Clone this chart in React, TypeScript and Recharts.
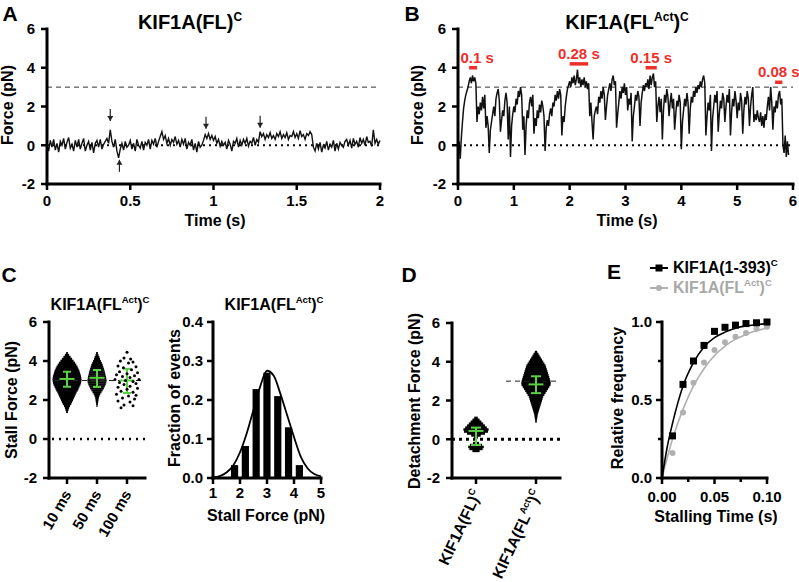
import React from 'react'
import { ComposedChart, Line, Bar, Scatter, XAxis, YAxis, ReferenceLine, ErrorBar } from 'recharts'

const FONT = '"Liberation Sans", Arial, Helvetica, sans-serif'
const RED = '#ee2f2a'
const GREEN = '#5bcf45'
const GRAY = '#b0b0b0'

// ---- A: KIF1A(FL)^C trace, one value every 10 ms
const traceAStep = 0.01
const traceAForce = [
  0.0, -0.3, 0.25, -0.1, 0.3, -0.25, 0.1, -0.35, 0.2, 0.0,
  0.35, -0.2, 0.15, 0.4, -0.15, 0.05, -0.3, 0.25, -0.1, 0.3,
  -0.2, 0.1, 0.35, -0.3, 0.0, 0.2, -0.25, 0.15, -0.4, 0.1,
  0.25, -0.1, 0.3, -0.2, 0.05, 0.2, 0.35, 0.1, 0.8, 0.2,
  -0.1, 0.3, -0.3, -0.65, -0.2, 0.1, -0.25, 0.2, -0.1, 0.0,
  0.25, -0.2, 0.1, -0.3, 0.3, 0.0, -0.15, 0.2, -0.25, 0.15,
  0.0, 0.3, -0.2, 0.25, 0.05, 0.35, -0.1, 0.2, 0.45, 0.7,
  0.3, 0.5, 0.1, 0.35, 0.0, 0.3, 0.15, 0.45, 0.05, 0.25,
  -0.1, 0.3, 0.05, 0.35, -0.2, 0.15, 0.0, 0.3, -0.25, 0.1,
  -0.35, 0.2, -0.1, 0.0, 0.25, 0.55, 0.35, 0.6, 0.3, 0.5,
  0.25, 0.45, 0.1, 0.3, -0.05, 0.2, 0.0, 0.15, -0.2, 0.25,
  0.05, -0.3, 0.2, 0.1, 0.35, -0.1, 0.25, 0.0, 0.3, 0.1,
  0.35, -0.05, 0.2, 0.1, 0.4, 0.0, 0.3, 0.15, 0.7, 0.45,
  0.6, 0.3, 0.55, 0.4, 0.65, 0.35, 0.5, 0.3, 0.6, 0.45,
  0.7, 0.35, 0.55, 0.4, 0.65, 0.3, 0.5, 0.45, 0.7, 0.4,
  0.6, 0.35, 0.75, 0.45, 0.55, 0.3, 0.6, 0.5, 0.7, 0.55,
  -0.1, -0.3, 0.1, -0.2, 0.15, -0.35, 0.0, -0.15, 0.2, -0.25,
  0.05, -0.1, 0.25, -0.3, 0.1, -0.2, 0.15, 0.0, -0.1, 0.2,
  0.3, 0.0, 0.25, -0.15, 0.35, 0.05, 0.2, -0.1, 0.4, 0.1,
  0.3, 0.0, 0.45, 0.15, 0.2, -0.05, 0.8, 0.1, 0.3, 0.05,
  0.25,
]
// arrow tips (time, force, pointing)
const arrowsA = [
  { t: 0.38, f: 1.25, dir: 'down' },
  { t: 0.435, f: -0.75, dir: 'up' },
  { t: 0.955, f: 0.85, dir: 'down' },
  { t: 1.28, f: 0.9, dir: 'down' },
]

// ---- B: KIF1A(FL^Act)^C trace, one value every 20 ms
const traceBStep = 0.02
const traceBForce = [
  -0.3, 0.2, -0.7, 0.4, 1.2, 1.9, 2.3, 2.6, 2.8, 3.0,
  3.3, 3.5, 3.2, 3.6, 3.3, 3.5, 3.2, 1.2, 2.0, 1.6,
  2.2, 1.8, 2.5, 1.9, 2.6, 0.9, 1.5, 1.0, -0.4, 0.8,
  1.2, 1.6, 2.0, 1.5, 2.4, 2.7, 2.9, 2.3, 0.7, 1.3,
  1.8, 1.5, 2.3, 2.7, 2.2, 0.3, 2.0, -0.6, 1.0, 1.6,
  2.0, 1.7, 2.4, 2.1, 2.8, 2.5, 3.0, 2.6, 0.8, 1.5,
  -0.5, 1.0, 1.8, 1.4, 2.2, 2.5, 2.0, 2.6, 0.6, 1.4,
  1.0, 1.8, 1.4, 2.1, 1.7, 2.3, 2.0, 1.5, -0.3, 0.9,
  1.3, 1.0, 1.6, 1.9, 1.5, 2.2, 2.0, 2.6, 2.3, 2.8,
  2.4, 2.9, 2.6, 0.5, 1.5, 1.2, 2.0, 2.5, 2.9, 3.1,
  3.3, 3.0, 3.5, 3.2, 3.6, 3.1, 3.4, 3.9, 3.2, 3.5,
  3.0, 3.4, 3.1, 3.5, 3.0, 3.3, 2.9, 3.2, 1.5, 2.2,
  1.2, 0.3, 1.5, 1.8, 2.0, 1.6, 2.5, 2.2, 2.8, 2.4,
  3.0, 2.6, 1.3, 2.0, 2.6, 2.9, 3.2, 2.8, 3.4, 3.6,
  3.1, 3.3, 0.9, 1.6, 2.2, 2.8, 2.4, 3.0, 2.7, 3.2,
  2.6, 3.0, 1.8, 2.4, 2.1, 2.7, 0.2, 1.5, 2.0, 2.6,
  2.3, 2.8, 2.5, 1.0, 2.2, 2.7, 3.1, 2.8, 3.2, 3.0,
  3.4, 2.9, 3.6, 3.1, 3.5, 3.7, 3.0, 3.3, 1.2, 2.0,
  2.5, 1.7, 2.4, 0.3, 1.8, 2.6, 2.2, 2.9, 2.5, 1.5,
  2.2, 2.7, 1.9, 2.4, 0.8, 1.6, 2.3, 2.0, 2.6, 2.2,
  -0.2, 1.2, 1.8, 2.4, 2.0, 2.7, 2.2, 0.6, 1.9, 2.5,
  2.2, 2.8, 2.5, 3.0, 2.7, 3.1, 2.9, 3.3, 3.0, 3.4,
  3.6, 3.2, 0.5, 1.5, 2.2, 1.8, 2.6, -0.3, 1.4, 2.0,
  2.6, 2.2, 2.8, 0.7, 1.6, 2.3, 1.9, 2.7, 2.4, 1.2,
  2.0, 2.6, 2.2, 2.9, 0.5, 1.7, 2.4, 2.0, 2.8, 2.3,
  1.4, 2.2, 1.8, 2.7, 2.3, 0.6, 1.8, 2.5, 2.1, 2.8,
  2.4, 1.0, 2.0, 2.6, 3.0, 1.2, 1.6, 1.3, 1.8, 1.4,
  1.2, 1.7, 1.0, 1.5, 0.9, 1.6, 1.3, 2.0, 2.5, 1.8,
  3.0, 2.2, 0.8, 2.0, 1.7, 2.3, 1.9, 2.6, 2.8, 2.1,
  2.4, 0.0, -0.4, 0.5, -0.6, 0.2, -0.5,
]
const stallMarks = [
  { from: 0.2, to: 0.34, force: 4.0, label: '0.1 s' },
  { from: 2.0, to: 2.33, force: 4.2, label: '0.28 s' },
  { from: 3.36, to: 3.56, force: 4.0, label: '0.15 s' },
  { from: 5.68, to: 5.81, force: 3.25, label: '0.08 s' },
]

// ---- C left: stall force per time window
const stallGroups = ['10 ms', '50 ms', '100 ms']
// [force, half width of the swarm]
const stall10Profile: [number, number][] = [
  [4.4, 0.03], [4.3, 0.07], [4.2, 0.12], [4.1, 0.17], [4.0, 0.22], [3.9, 0.27], [3.8, 0.31],
  [3.7, 0.35], [3.6, 0.38], [3.5, 0.41], [3.4, 0.43], [3.3, 0.45], [3.2, 0.47], [3.1, 0.48],
  [3.0, 0.48], [2.9, 0.47], [2.8, 0.45], [2.7, 0.42], [2.6, 0.39], [2.5, 0.36], [2.4, 0.32],
  [2.3, 0.29], [2.2, 0.26], [2.1, 0.23], [2.0, 0.2], [1.9, 0.17], [1.8, 0.14], [1.7, 0.1],
  [1.6, 0.07], [1.5, 0.05], [1.4, 0.03],
]
const stall50Profile: [number, number][] = [
  [4.4, 0.03], [4.3, 0.05], [4.2, 0.08], [4.1, 0.1], [4.0, 0.13], [3.9, 0.16], [3.8, 0.19],
  [3.7, 0.21], [3.6, 0.23], [3.5, 0.25], [3.4, 0.27], [3.3, 0.28], [3.2, 0.3], [3.1, 0.31],
  [3.0, 0.32], [2.9, 0.31], [2.8, 0.29], [2.7, 0.26], [2.6, 0.23], [2.5, 0.19], [2.4, 0.15],
  [2.3, 0.11], [2.2, 0.08], [2.1, 0.06], [2.0, 0.05], [1.9, 0.04], [1.8, 0.03], [1.7, 0.02],
]
// [offset from the group centre, force]
const stall100Dots: [number, number][] = [
  [0.0, 4.45], [-0.1, 4.15], [0.12, 4.1], [-0.22, 4.0], [0.2, 3.95], [0.05, 3.9], [-0.3, 3.75],
  [0.3, 3.7], [-0.12, 3.65], [0.15, 3.55], [-0.25, 3.45], [0.35, 3.4], [0.0, 3.35], [-0.35, 3.3],
  [0.25, 3.25], [-0.15, 3.2], [0.1, 3.15], [-0.4, 3.05], [0.4, 3.05], [-0.05, 3.0], [0.2, 2.95],
  [-0.25, 2.9], [0.3, 2.85], [-0.1, 2.8], [0.1, 2.7], [-0.3, 2.65], [0.35, 2.6], [0.0, 2.55],
  [-0.2, 2.45], [0.2, 2.4], [-0.35, 2.3], [0.3, 2.25], [0.05, 2.2], [-0.15, 2.1], [0.25, 2.05],
  [-0.3, 1.95], [0.1, 1.9], [-0.1, 1.75], [0.2, 1.7], [-0.2, 1.6],
]
const stallMeans = [3.08, 3.14, 3.0]
const stallLow = [2.68, 2.67, 2.36]
const stallHigh = [3.45, 3.54, 3.6]

// ---- C right: histogram of stall force
const binCenters = [1.8, 2.2, 2.6, 3.0, 3.4, 3.8, 4.2]
const binFractions = [0.033, 0.082, 0.228, 0.27, 0.21, 0.13, 0.033]
const gaussForce = [1.0, 1.25, 1.5, 1.75, 2.0, 2.25, 2.5, 2.75, 3.0, 3.25, 3.5, 3.75, 4.0, 4.25, 4.5, 4.75, 5.0]
const gaussFraction = [0.001, 0.005, 0.014, 0.032, 0.066, 0.115, 0.175, 0.235, 0.275, 0.262, 0.215, 0.16, 0.105, 0.055, 0.025, 0.01, 0.004]

// ---- D: detachment force
const detachGroups = ['KIF1A(FL)^{C}', 'KIF1A(FL^{Act})^{C}']
const detachFLProfile: [number, number][] = [
  [1.1, 0.03], [1.0, 0.06], [0.9, 0.09], [0.8, 0.12], [0.7, 0.15], [0.6, 0.18], [0.5, 0.21],
  [0.4, 0.2], [0.3, 0.15], [0.2, 0.08], [0.1, 0.03], [-0.2, 0.05], [-0.3, 0.1], [-0.4, 0.13],
  [-0.5, 0.11], [-0.6, 0.06],
]
const detachActProfile: [number, number][] = [
  [4.5, 0.02], [4.4, 0.04], [4.3, 0.06], [4.2, 0.08], [4.1, 0.1], [4.0, 0.12], [3.9, 0.14],
  [3.8, 0.16], [3.7, 0.17], [3.6, 0.18], [3.5, 0.19], [3.4, 0.2], [3.3, 0.21], [3.2, 0.22],
  [3.1, 0.23], [3.0, 0.24], [2.9, 0.245], [2.8, 0.24], [2.7, 0.22], [2.6, 0.2], [2.5, 0.18],
  [2.4, 0.16], [2.3, 0.14], [2.2, 0.12], [2.1, 0.11], [2.0, 0.1], [1.9, 0.09], [1.8, 0.08],
  [1.7, 0.07], [1.6, 0.06], [1.5, 0.05], [1.4, 0.04], [1.3, 0.03], [1.2, 0.025], [1.1, 0.02],
  [1.0, 0.015], [0.9, 0.01],
]
const detachMeans = [0.43, 2.83]
const detachLow = [-0.3, 2.38]
const detachHigh = [0.6, 3.25]

// ---- E: cumulative stalling time
const stallTimes = [0.01, 0.02, 0.03, 0.04, 0.05, 0.06, 0.07, 0.08, 0.09, 0.1]
const freqTrunc = [0.27, 0.6, 0.75, 0.85, 0.94, 0.966, 0.98, 0.99, 0.995, 1.0]
const freqFull = [0.16, 0.42, 0.61, 0.74, 0.82, 0.87, 0.905, 0.93, 0.955, 0.97]
const fitTimes = [0, 0.005, 0.01, 0.015, 0.02, 0.03, 0.04, 0.05, 0.06, 0.07, 0.08, 0.09, 0.1]
const fitTrunc = [0, 0.2, 0.35, 0.48, 0.59, 0.74, 0.84, 0.9, 0.935, 0.96, 0.975, 0.983, 0.99]
const fitFull = [0, 0.13, 0.25, 0.35, 0.44, 0.59, 0.7, 0.785, 0.845, 0.89, 0.92, 0.945, 0.96]

// ---------- shared styling
const tickText = { fill: '#000', fontSize: 15, fontWeight: 700, fontFamily: FONT }
const axisLine = { stroke: '#000', strokeWidth: 3, strokeLinecap: 'square' as const }
const tickLine = { stroke: '#000', strokeWidth: 2.5 }
const axisCommon = { axisLine, tickLine, tickSize: 6, tick: tickText, interval: 0 as const }

function Rich({ text }: { text: string }) {
  const parts = text.split(/(\^\{[^}]*\})/).filter(Boolean)
  return (
    <>
      {parts.map((p, i) =>
        p.startsWith('^{') ? (
          <span key={i} style={{ fontSize: '0.6em', position: 'relative', top: '-0.7em' }}>{p.slice(2, -1)}</span>
        ) : (
          <span key={i}>{p}</span>
        ),
      )}
    </>
  )
}

function svgRich(text: string, size: number) {
  const parts = text.split(/(\^\{[^}]*\})/).filter(Boolean)
  const shift = size * 0.42
  let raised = false
  return parts.map((p, i) => {
    if (p.startsWith('^{')) {
      const el = (
        <tspan key={i} fontSize={size * 0.6} dy={raised ? undefined : -shift}>
          {p.slice(2, -1)}
        </tspan>
      )
      raised = true
      return el
    }
    const el = (
      <tspan key={i} fontSize={size} dy={raised ? shift : undefined}>
        {p}
      </tspan>
    )
    raised = false
    return el
  })
}

function Txt({ x, y, size, text, rotate, color = '#000' }: { x: number; y: number; size: number; text: string; rotate?: number; color?: string }) {
  return (
    <div
      style={{
        position: 'absolute',
        left: x,
        top: y,
        transform: `translate(-50%,-50%)${rotate ? ` rotate(${rotate}deg)` : ''}`,
        fontSize: size,
        fontWeight: 700,
        color,
        whiteSpace: 'nowrap',
        lineHeight: 1,
      }}
    >
      <Rich text={text} />
    </div>
  )
}

const Blank = () => <g />

function Arrow(props: any) {
  const { cx, cy, payload } = props
  // s = -1: tail sits above the tip (arrow points down)
  const s = payload.dir === 'down' ? -1 : 1
  return (
    <g>
      <line x1={cx} y1={cy} x2={cx} y2={cy - s * -12} stroke="#222" strokeWidth={1.2} />
      <path d={`M${cx},${cy} L${cx - 3},${cy + s * 5} L${cx + 3},${cy + s * 5} Z`} fill="#222" />
    </g>
  )
}

function swarm(profile: [number, number][], centre: number) {
  return profile.map(([y, hw]) => ({ x: centre, y, hw }))
}

function PanelA() {
  const data = traceAForce.map((f, i) => ({ t: +(i * traceAStep).toFixed(2), f }))
  return (
    <div style={{ position: 'absolute', left: 0, top: 0 }}>
      <ComposedChart width={400} height={240} data={data} margin={{ top: 29, right: 20, bottom: 0, left: 0 }}>
        <XAxis dataKey="t" type="number" domain={[0, 2]} ticks={[0, 0.5, 1, 1.5, 2]} height={56} tickMargin={5} {...axisCommon} />
        <YAxis dataKey="f" type="number" domain={[-2, 6]} ticks={[-2, 0, 2, 4, 6]} width={47} tickMargin={6} {...axisCommon} />
        <ReferenceLine y={3} stroke="#333" strokeWidth={1} strokeDasharray="5 4" />
        <ReferenceLine y={0} stroke="#000" strokeWidth={2} strokeDasharray="2 4" />
        <Line dataKey="f" stroke="#111" strokeWidth={1.4} dot={false} isAnimationActive={false} />
        <Scatter data={arrowsA} shape={<Arrow />} isAnimationActive={false} />
      </ComposedChart>
    </div>
  )
}

function PanelB() {
  const data = traceBForce.map((f, i) => ({ t: +(i * traceBStep).toFixed(2), f }))
  return (
    <div style={{ position: 'absolute', left: 400, top: 0 }}>
      <ComposedChart width={399} height={240} data={data} margin={{ top: 29, right: 6, bottom: 0, left: 0 }}>
        <XAxis dataKey="t" type="number" domain={[0, 6]} ticks={[0, 1, 2, 3, 4, 5, 6]} height={56} tickMargin={5} {...axisCommon} />
        <YAxis dataKey="f" type="number" domain={[-2, 6]} ticks={[-2, 0, 2, 4, 6]} width={58} tickMargin={6} {...axisCommon} />
        <ReferenceLine y={3} stroke="#333" strokeWidth={1} strokeDasharray="5 4" />
        <ReferenceLine y={0} stroke="#000" strokeWidth={2} strokeDasharray="2 4" />
        <Line dataKey="f" stroke="#111" strokeWidth={1.5} dot={false} isAnimationActive={false} />
        {stallMarks.map((m, i) => (
          <ReferenceLine
            key={m.label}
            segment={[{ x: m.from, y: m.force }, { x: m.to, y: m.force }]}
            stroke={RED}
            strokeWidth={3.5}
            label={{ value: m.label, position: 'top', offset: 5, dx: i === 0 ? 4 : 0, fill: RED, fontSize: 15, fontWeight: 700, fontFamily: FONT }}
          />
        ))}
      </ComposedChart>
    </div>
  )
}

function StallTick(props: any) {
  const { x, y, payload } = props
  return (
    <g transform={`translate(${x + 5},${y + 7})`}>
      <text transform="rotate(-60)" textAnchor="end" {...tickText}>
        {stallGroups[payload.value - 1]}
      </text>
    </g>
  )
}

function PanelCLeft() {
  const means = stallMeans.map((m, i) => ({ x: i + 1, y: m, err: [m - stallLow[i], stallHigh[i] - m], mw: 0.25 }))
  const dots = stall100Dots.map(([dx, y]) => ({ x: 3 + dx, y }))
  return (
    <div style={{ position: 'absolute', left: 0, top: 300 }}>
      <ComposedChart width={160} height={240} margin={{ top: 22, right: 15, bottom: 0, left: 0 }}>
        <XAxis
          dataKey="x"
          type="number"
          domain={[0.4, 3.6]}
          ticks={[1, 2, 3]}
          height={62}
          tickMargin={3}
          axisLine={axisLine}
          tickLine={tickLine}
          tickSize={6}
          interval={0}
          tick={<StallTick />}
        />
        <YAxis dataKey="y" type="number" domain={[-2, 6]} ticks={[-2, 0, 2, 4, 6]} width={49} tickMargin={6} {...axisCommon} />
        <ReferenceLine segment={[{ x: 0.5, y: 0 }, { x: 3.6, y: 0 }]} stroke="#000" strokeWidth={2.5} strokeDasharray="2 5" />
        <Scatter data={swarm(stall10Profile, 1)} shape={<Blank />} isAnimationActive={false}>
          <ErrorBar dataKey="hw" direction="x" width={0} stroke="#000" strokeWidth={2.6} />
        </Scatter>
        <Scatter data={swarm(stall50Profile, 2)} shape={<Blank />} isAnimationActive={false}>
          <ErrorBar dataKey="hw" direction="x" width={0} stroke="#000" strokeWidth={2.2} />
        </Scatter>
        <Scatter data={dots} shape={(p: any) => <circle cx={p.cx} cy={p.cy} r={1.5} fill="#000" />} isAnimationActive={false} />
        <ReferenceLine segment={[{ x: 0.6, y: 3 }, { x: 3.6, y: 3 }]} stroke="#222" strokeWidth={1} strokeDasharray="5 4" />
        <Scatter data={means} shape={<Blank />} isAnimationActive={false}>
          <ErrorBar dataKey="err" direction="y" width={4} stroke={GREEN} strokeWidth={2} />
          <ErrorBar dataKey="mw" direction="x" width={0} stroke={GREEN} strokeWidth={2} />
        </Scatter>
      </ComposedChart>
    </div>
  )
}

function HistBar(props: any) {
  const { x, y, width, height } = props
  const cx = x + width / 2
  return <rect x={cx - 3.6} y={y} width={7.2} height={height} fill="#000" />
}

function PanelCRight() {
  const bins = binCenters.map((x, i) => ({ x, frac: binFractions[i] }))
  const fit = gaussForce.map((x, i) => ({ x, fit: gaussFraction[i] }))
  return (
    <div style={{ position: 'absolute', left: 160, top: 300 }}>
      <ComposedChart width={180} height={240} data={bins} margin={{ top: 22, right: 19, bottom: 0, left: 0 }}>
        <XAxis dataKey="x" type="number" domain={[1, 5]} ticks={[1, 2, 3, 4, 5]} height={62} tickMargin={3} {...axisCommon} />
        <YAxis
          type="number"
          domain={[0, 0.4]}
          ticks={[0, 0.1, 0.2, 0.3, 0.4]}
          tickFormatter={(v: number) => v.toFixed(1)}
          width={53}
          tickMargin={4}
          {...axisCommon}
        />
        <Bar dataKey="frac" fill="#000" shape={<HistBar />} isAnimationActive={false} />
        <Line data={fit} dataKey="fit" type="monotone" stroke="#000" strokeWidth={1.8} dot={false} isAnimationActive={false} />
      </ComposedChart>
    </div>
  )
}

function DetachTick(props: any) {
  const { x, y, payload } = props
  const label = detachGroups[payload.value - 1]
  return (
    <g transform={`translate(${x + 6},${y + 7})`}>
      <text transform="rotate(-65)" textAnchor="end" fill="#000" fontFamily={FONT} fontWeight={700}>
        {svgRich(label, 15.5)}
      </text>
    </g>
  )
}

function PanelD() {
  const means = detachMeans.map((m, i) => ({ x: i + 1, y: m, err: [m - detachLow[i], detachHigh[i] - m], mw: 0.125 }))
  return (
    <div style={{ position: 'absolute', left: 400, top: 300 }}>
      <ComposedChart width={170} height={282} margin={{ top: 23, right: 10, bottom: 0, left: 0 }}>
        <XAxis
          dataKey="x"
          type="number"
          domain={[0.6, 2.4]}
          ticks={[1, 2]}
          height={104}
          axisLine={axisLine}
          tickLine={tickLine}
          tickSize={6}
          interval={0}
          tick={<DetachTick />}
        />
        <YAxis dataKey="y" type="number" domain={[-2, 6]} ticks={[-2, 0, 2, 4, 6]} width={52} tickMargin={6} {...axisCommon} />
        <ReferenceLine y={0} stroke="#000" strokeWidth={3} strokeDasharray="3 4" />
        <Scatter data={swarm(detachFLProfile, 1)} shape={<Blank />} isAnimationActive={false}>
          <ErrorBar dataKey="hw" direction="x" width={0} stroke="#000" strokeWidth={2.6} />
        </Scatter>
        <Scatter data={swarm(detachActProfile, 2)} shape={<Blank />} isAnimationActive={false}>
          <ErrorBar dataKey="hw" direction="x" width={0} stroke="#000" strokeWidth={2.6} />
        </Scatter>
        <ReferenceLine segment={[{ x: 1.5, y: 3 }, { x: 2.4, y: 3 }]} stroke="#222" strokeWidth={1} strokeDasharray="5 4" />
        <Scatter data={means} shape={<Blank />} isAnimationActive={false}>
          <ErrorBar dataKey="err" direction="y" width={5} stroke={GREEN} strokeWidth={2} />
          <ErrorBar dataKey="mw" direction="x" width={0} stroke={GREEN} strokeWidth={2} />
        </Scatter>
      </ComposedChart>
    </div>
  )
}

const E_LEFT = 62
const E_BOTTOM = 178
const eMajorX = [0, 0.05, 0.1]
const eMajorY = [0, 0.5, 1]
const isMajor = (v: number, list: number[]) => list.some((m) => Math.abs(m - v) < 1e-9)

function ETickX(props: any) {
  const { x, payload } = props
  const major = isMajor(payload.value, eMajorX)
  return (
    <g>
      <line x1={x} x2={x} y1={E_BOTTOM} y2={E_BOTTOM + (major ? 6 : 4)} stroke="#000" strokeWidth={2.5} />
      {major && (
        <text x={x} y={E_BOTTOM + 24} textAnchor="middle" {...tickText}>
          {payload.value.toFixed(2)}
        </text>
      )}
    </g>
  )
}

function ETickY(props: any) {
  const { y, payload } = props
  const major = isMajor(payload.value, eMajorY)
  return (
    <g>
      <line x1={E_LEFT} x2={E_LEFT - (major ? 6 : 4)} y1={y} y2={y} stroke="#000" strokeWidth={2.5} />
      {major && (
        <text x={E_LEFT - 10} y={y + 5} textAnchor="end" {...tickText}>
          {payload.value.toFixed(1)}
        </text>
      )}
    </g>
  )
}

function PanelE() {
  const trunc = stallTimes.map((x, i) => ({ x, y: freqTrunc[i] }))
  const full = stallTimes.map((x, i) => ({ x, y: freqFull[i] }))
  const fitT = fitTimes.map((x, i) => ({ x, y: fitTrunc[i] }))
  const fitF = fitTimes.map((x, i) => ({ x, y: fitFull[i] }))
  return (
    <div style={{ position: 'absolute', left: 600, top: 300 }}>
      <ComposedChart width={195} height={240} margin={{ top: 22, right: 28, bottom: 0, left: 0 }}>
        <XAxis
          dataKey="x"
          type="number"
          domain={[0, 0.1]}
          ticks={[0, 0.025, 0.05, 0.075, 0.1]}
          height={62}
          axisLine={axisLine}
          tickLine={false}
          interval={0}
          tick={<ETickX />}
        />
        <YAxis
          dataKey="y"
          type="number"
          domain={[0, 1]}
          ticks={[0, 0.25, 0.5, 0.75, 1]}
          width={E_LEFT}
          axisLine={axisLine}
          tickLine={false}
          interval={0}
          tick={<ETickY />}
        />
        <Line data={fitF} dataKey="y" type="monotone" stroke={GRAY} strokeWidth={1.6} dot={false} isAnimationActive={false} />
        <Line data={fitT} dataKey="y" type="monotone" stroke="#000" strokeWidth={1.6} dot={false} isAnimationActive={false} />
        <Scatter data={full} shape={(p: any) => <circle cx={p.cx} cy={p.cy} r={3} fill={GRAY} />} isAnimationActive={false} />
        <Scatter data={trunc} shape={(p: any) => <rect x={p.cx - 3.5} y={p.cy - 3.5} width={7} height={7} fill="#000" />} isAnimationActive={false} />
      </ComposedChart>
    </div>
  )
}

function LegendE() {
  const rows = [
    { text: 'KIF1A(1-393)^{C}', color: '#000', square: true },
    { text: 'KIF1A(FL^{Act})^{C}', color: '#a8a8a8', square: false },
  ]
  return (
    <div style={{ position: 'absolute', left: 649, top: 258 }}>
      {rows.map((r) => (
        <div key={r.text} style={{ display: 'flex', alignItems: 'center', height: 20 }}>
          <svg width={20} height={12}>
            <line x1={1} y1={6} x2={19} y2={6} stroke={r.square ? '#000' : GRAY} strokeWidth={2} />
            {r.square ? <rect x={6.5} y={2.5} width={7} height={7} fill="#000" /> : <circle cx={10} cy={6} r={3} fill={GRAY} />}
          </svg>
          <span style={{ marginLeft: 4, fontSize: 16, fontWeight: 700, color: r.color, lineHeight: 1 }}>
            <Rich text={r.text} />
          </span>
        </div>
      ))}
    </div>
  )
}

export default function App() {
  return (
    <div style={{ position: 'absolute', left: 0, top: 0, width: 799, height: 582, background: '#fff', fontFamily: FONT, overflow: 'hidden' }}>
      <PanelA />
      <PanelB />
      <PanelCLeft />
      <PanelCRight />
      <PanelD />
      <PanelE />
      <LegendE />

      <Txt x={10} y={13} size={21} text="A" />
      <Txt x={412} y={13} size={21} text="B" />
      <Txt x={9} y={274} size={21} text="C" />
      <Txt x={409} y={274} size={21} text="D" />
      <Txt x={614} y={271} size={21} text="E" />

      <Txt x={190} y={22} size={20} text="KIF1A(FL)^{C}" />
      <Txt x={627} y={22} size={20} text="KIF1A(FL^{Act})^{C}" />
      <Txt x={100} y={305} size={16} text="KIF1A(FL^{Act})^{C}" />
      <Txt x={274} y={305} size={16} text="KIF1A(FL^{Act})^{C}" />

      <Txt x={8} y={105} size={16} rotate={-90} text="Force (pN)" />
      <Txt x={418} y={105} size={16} rotate={-90} text="Force (pN)" />
      <Txt x={12} y={400} size={16} rotate={-90} text="Stall Force (pN)" />
      <Txt x={175} y={398} size={16} rotate={-90} text="Fraction of events" />
      <Txt x={415} y={401} size={16} rotate={-90} text="Detachment Force (pN)" />
      <Txt x={618} y={398} size={16} rotate={-90} text="Relative frequency" />

      <Txt x={215} y={221} size={16} text="Time (s)" />
      <Txt x={627} y={221} size={16} text="Time (s)" />
      <Txt x={266} y={516} size={16} text="Stall Force (pN)" />
      <Txt x={716} y={517} size={16} text="Stalling Time (s)" />
    </div>
  )
}
